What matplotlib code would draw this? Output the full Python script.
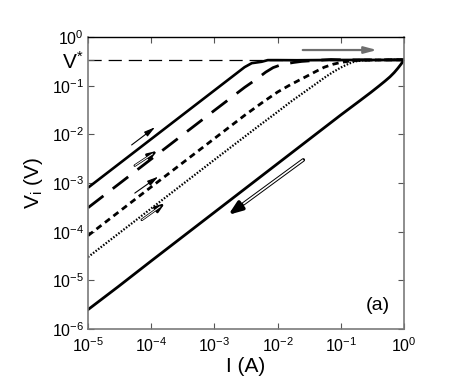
import matplotlib
matplotlib.use("Agg")
import matplotlib.pyplot as plt
import numpy as np

plt.rcParams['font.family'] = ['Liberation Sans', 'DejaVu Sans']
plt.rcParams['mathtext.fontset'] = 'custom'
plt.rcParams['mathtext.rm'] = 'Liberation Sans'
plt.rcParams['mathtext.it'] = 'Liberation Sans:italic'
plt.rcParams['lines.scale_dashes'] = False

# ---- data ----
I1 = [1e-5, 1e-4, 1e-3, 2e-3, 3e-3, 3.9e-3, 4.7e-3, 5.6e-3, 7e-3, 1e-2, 2e-2, 5e-2, 0.1, 0.2, 0.5, 1.0]
V1 = [8e-4, 8e-3, 8e-2, 0.16, 0.24, 0.29, 0.30, 0.31, 0.335, 0.335, 0.333, 0.336, 0.337, 0.338, 0.338, 0.34]

I2 = [1e-5, 1e-4, 1e-3, 3e-3, 4.7e-3, 6.5e-3, 8.5e-3, 1.1e-2, 1.3e-2, 1.8e-2, 2.4e-2, 4e-2, 7e-2, 0.1, 0.2, 0.5, 1.0]
V2 = [3.1e-4, 3.1e-3, 3.1e-2, 0.092, 0.138, 0.19, 0.235, 0.265, 0.28, 0.30, 0.315, 0.33, 0.345, 0.34, 0.338, 0.338, 0.34]

I3 = [1e-5, 1e-4, 1e-3, 3e-3, 6e-3, 1e-2, 1.5e-2, 2.2e-2, 3e-2, 4e-2, 5.5e-2, 7.5e-2, 0.1, 0.15, 0.2, 0.5, 1.0]
V3 = [8.3e-5, 8.3e-4, 8.2e-3, 0.0245, 0.047, 0.074, 0.10, 0.13, 0.16, 0.195, 0.24, 0.275, 0.30, 0.325, 0.334, 0.338, 0.34]

I4 = [1e-5, 1e-4, 1e-3, 5e-3, 1e-2, 1.66e-2, 2.5e-2, 4e-2, 5.6e-2, 7.5e-2, 0.103, 0.135, 0.168, 0.22, 0.3, 0.5, 1.0]
V4 = [3e-5, 3e-4, 3e-3, 0.0148, 0.029, 0.048, 0.07, 0.108, 0.148, 0.19, 0.24, 0.285, 0.315, 0.33, 0.335, 0.338, 0.34]

I5 = [1e-5, 3e-5, 1e-4, 1e-3, 1e-2, 5e-2, 0.1, 0.2, 0.3, 0.4, 0.5, 0.6, 0.7, 0.8, 0.9, 1.0]
V5 = [2.5e-6, 7.4e-6, 2.5e-5, 2.5e-4, 2.5e-3, 0.0125, 0.025, 0.049, 0.073, 0.098, 0.124, 0.152, 0.186, 0.228, 0.278, 0.34]

V_star = 0.34

x_ticks = [1e-5, 1e-4, 1e-3, 1e-2, 1e-1, 1e0]
x_labels = [r'$\mathregular{10^{-5}}$', r'$\mathregular{10^{-4}}$', r'$\mathregular{10^{-3}}$',
            r'$\mathregular{10^{-2}}$', r'$\mathregular{10^{-1}}$', r'$\mathregular{10^{0}}$']
y_ticks = [1e-6, 1e-5, 1e-4, 1e-3, 1e-2, 1e-1, 1e0]
y_labels = [r'$\mathregular{10^{-6}}$', r'$\mathregular{10^{-5}}$', r'$\mathregular{10^{-4}}$',
            r'$\mathregular{10^{-3}}$', r'$\mathregular{10^{-2}}$', r'$\mathregular{10^{-1}}$',
            r'$\mathregular{10^{0}}$']

# ---- figure ----
fig = plt.figure(figsize=(4.63, 3.87), dpi=100)
ax = fig.add_axes([88/463, 1-329/387, (404-88)/463, (329-37)/387])
ax.set_xscale('log')
ax.set_yscale('log')
ax.set_xlim(1e-5, 1)
ax.set_ylim(1e-6, 1)

# V* reference line
ax.axhline(V_star, color='black', lw=0.9, dashes=(9.5, 5), zorder=1)

ax.plot(I1, V1, color='black', lw=1.9, solid_capstyle='butt')
ax.plot(I2, V2, color='black', lw=2.0, dashes=(14, 8.5))
ax.plot(I3, V3, color='black', lw=2.0, dashes=(4.5, 3.2))
ax.plot(I4, V4, color='black', lw=1.6, dashes=(1.1, 1.2))
ax.plot(I5, V5, color='black', lw=2.0)

# ---- arrows ----
def thin_arrow(tail, head):
    ax.annotate('', xy=head, xytext=tail,
                arrowprops=dict(arrowstyle='-|>,head_length=0.65,head_width=0.17',
                                color='black', lw=0.8, shrinkA=0, shrinkB=0))

def double_arrow(tail, head, lw=2.4, hl=0.7, hw=0.25, inner=0.4):
    ax.annotate('', xy=head, xytext=tail,
                arrowprops=dict(arrowstyle=f'-|>,head_length={hl},head_width={hw}',
                                color='black', lw=lw, shrinkA=0, shrinkB=0),
                zorder=5)
    t = 0.8
    mid = (tail[0] * (head[0] / tail[0]) ** t, tail[1] * (head[1] / tail[1]) ** t)
    ax.plot([tail[0], mid[0]], [tail[1], mid[1]], color='white', lw=lw * inner,
            solid_capstyle='butt', zorder=6)

thin_arrow((4.9e-5, 6.05e-3), (1.15e-4, 1.4e-2))
double_arrow((5.5e-5, 2.28e-3), (1.25e-4, 4.6e-3), lw=1.8, hl=0.55, hw=0.2)
thin_arrow((5.5e-5, 6.2e-4), (1.29e-4, 1.35e-3))
double_arrow((7.1e-5, 1.75e-4), (1.65e-4, 3.85e-4), lw=1.8, hl=0.55, hw=0.2)
double_arrow((2.55e-2, 2.98e-3), (1.66e-3, 2.21e-4), lw=2.6, hl=0.8, hw=0.3, inner=0.45)

ax.annotate('', xy=(0.374, 0.54), xytext=(2.5e-2, 0.54),
            arrowprops=dict(arrowstyle='-|>,head_length=0.75,head_width=0.2',
                            color='#6e6e6e', lw=1.6, shrinkA=0, shrinkB=0))

# ---- axes styling ----
ax.minorticks_off()
ax.set_xticks(x_ticks)
ax.set_xticklabels(x_labels, fontsize=11.5)
ax.set_yticks(y_ticks + [V_star])
ax.set_yticklabels(y_labels + [r'$\mathregular{V^{*}}$'], fontsize=11.5)
ax.get_yticklabels()[-1].set_fontsize(15)
ax.tick_params(which='both', direction='in', length=4, width=0.8, color='#555555',
               top=True, right=True, pad=3)
ax.tick_params(axis='x', pad=5)
ax.minorticks_off()
for s in ['left', 'bottom', 'right']:
    ax.spines[s].set_color('#7a7a7a')
    ax.spines[s].set_linewidth(1.2)
ax.spines['top'].set_color('black')
ax.spines['top'].set_linewidth(1.0)

ax.set_xlabel('I (A)', fontsize=15, labelpad=2)
ax.set_ylabel(r'$\mathregular{V_i}$ (V)', fontsize=15, labelpad=5)

ax.text(0.955, 0.05, '(a)', transform=ax.transAxes, fontsize=14,
        ha='right', va='bottom')

fig.savefig('out.png', dpi=100)
